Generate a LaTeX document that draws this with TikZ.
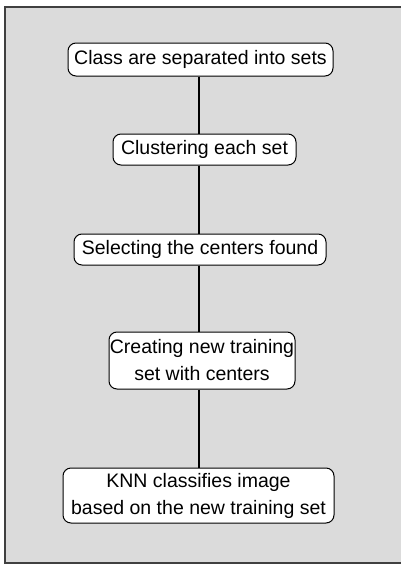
\documentclass[tikz,border=0pt]{standalone}
\usepackage{fontspec}
\setmainfont{Liberation Sans}
\begin{document}
\begin{tikzpicture}[x=1pt,y=-1pt,
  stepbox/.style={draw=black, line width=1pt, fill=white, rounded corners=8pt,
    inner sep=0pt, align=center,
    font=\fontsize{19.5}{27}\selectfont},
  conn/.style={draw=black, line width=1.2pt}]
\useasboundingbox (0,0) rectangle (401,565);
\fill[white] (0,0) rectangle (401,565);
\draw[fill=black!14, draw=black!75, line width=1.2pt] (5,7) rectangle (410,563);
\coordinate (spine) at (199,0);
\node[stepbox, minimum width=265pt, minimum height=33pt] (n1) at (200.5,59.5) {Class are separated into sets};
\node[stepbox, minimum width=183pt, minimum height=31pt] (n2) at (204.5,149.5) {Clustering each set};
\node[stepbox, minimum width=252pt, minimum height=31pt] (n3) at (200,249.5) {Selecting the centers found};
\node[stepbox, minimum width=186pt, minimum height=57pt] (n4) at (202,360.5) {Creating new training\\set with centers};
\node[stepbox, minimum width=271pt, minimum height=55pt] (n5) at (198.5,495.5) {KNN classifies image\\based on the new training set};
\draw[conn] (n1.south -| spine) -- (n2.north -| spine);
\draw[conn] (n2.south -| spine) -- (n3.north -| spine);
\draw[conn] (n3.south -| spine) -- (n4.north -| spine);
\draw[conn] (n4.south -| spine) -- (n5.north -| spine);
\end{tikzpicture}
\end{document}
